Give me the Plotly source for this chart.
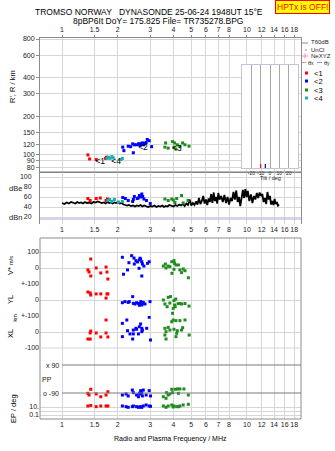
import plotly.graph_objects as go

# ---------------- data ----------------
freq_ticks = [1, 1.5, 2, 3, 4, 5, 6, 7, 8, 10, 12, 14, 16, 18]
freq_tick_labels = ["1", "1.5", "2", "3", "4", "5", "6", "7", "8", "10", "12", "14", "16", "18"]
range_ticks = [80, 90, 100, 120, 150, 200, 300, 400, 600, 800]
db_ticks = [20, 40, 60, 80, 100]

# virtual range R' (km)
red_f_r = [1.38, 1.41, 1.53, 1.72, 1.74]
red_h = [100, 93, 92, 94, 96]
cyan_f_r = [1.75, 1.78, 1.82, 1.86, 1.89, 2.08, 2.12]
cyan_h = [94, 96, 94, 97, 95, 92, 94]
blue_f_r = [2.13, 2.16, 2.28, 2.35, 2.41, 2.43, 2.46, 2.53, 2.59, 2.62, 2.64, 2.66, 2.70,
            2.71, 2.73, 2.75, 2.77, 2.81, 2.85, 2.89, 2.96, 3.05]
blue_h = [115, 108, 117, 116, 122, 104, 120, 120, 122, 120, 122, 119, 123,
          121, 124, 122, 120, 123, 125, 132, 129, 116]
green_f_r = [3.63, 3.60, 3.75, 3.96, 4.06, 4.20, 4.49, 4.86, 4.03, 4.34, 4.13, 4.62]
green_h = [124, 115, 113, 127, 124, 120, 124, 117, 115, 116, 111, 120]

# echo amplitude (dB)
red_f_db = [1.38, 1.42, 1.53, 1.61, 1.73, 1.76]
red_db = [57, 53, 57, 58, 53, 56]
cyan_f_db = [1.77, 1.81, 1.86, 1.92, 2.02, 2.12]
cyan_db = [53, 55, 51, 55, 50, 51]
blue_f_db = [2.13, 2.20, 2.28, 2.41, 2.46, 2.43, 2.55, 2.62, 2.70, 2.73, 2.77, 2.86, 3.00, 2.66, 2.58]
blue_db = [59, 57, 53, 51, 61, 55, 57, 63, 66, 61, 56, 53, 47, 60, 58]
green_f_db = [3.60, 3.75, 3.92, 4.00, 4.17, 4.43, 4.52, 4.80, 4.08]
green_db = [56, 53, 56, 54, 57, 63, 48, 53, 49]

# noise level (dBn)
noise_f = [1.00, 1.03, 1.06, 1.09, 1.12, 1.15, 1.18, 1.21, 1.24, 1.27, 1.30, 1.33, 1.36, 1.40,
           1.44, 1.48, 1.52, 1.56, 1.60, 1.64, 1.68, 1.72, 1.76, 1.80, 1.84, 1.88, 1.92, 1.96,
           2.00, 2.05, 2.10, 2.15, 2.20, 2.25, 2.30, 2.36, 2.42, 2.48, 2.54, 2.60, 2.66, 2.72,
           2.78, 2.85, 2.92, 3.00, 3.08, 3.16, 3.24, 3.32, 3.40, 3.48, 3.56, 3.64, 3.72, 3.80,
           3.90, 4.00, 4.10, 4.20, 4.30, 4.40, 4.50, 4.60, 4.70, 4.80, 4.90, 5.00, 5.10, 5.20,
           5.30, 5.40, 5.50, 5.60, 5.70, 5.80, 5.90, 6.00, 6.10, 6.20, 6.30, 6.40, 6.50, 6.60,
           6.70, 6.80, 6.90, 7.00, 7.10, 7.25, 7.40, 7.55, 7.70, 7.85, 8.00, 8.15, 8.30, 8.45,
           8.60, 8.75, 8.90, 9.05, 9.20, 9.35, 9.50, 9.65, 9.80, 9.95, 10.1, 10.3, 10.5, 10.7,
           10.9, 11.1, 11.3, 11.5, 11.7, 11.9, 12.1, 12.3, 12.5, 12.7, 12.9, 13.1, 13.3, 13.5,
           13.7, 13.9, 14.1, 14.3, 14.5, 14.7, 14.9]
noise_db = [48, 46, 49, 47, 50, 48, 47, 50, 48, 49, 47, 50, 48, 49,
            47, 50, 49, 51, 50, 48, 49, 47, 50, 48, 49, 47, 49, 48,
            50, 47, 48, 45, 44, 43, 44, 42, 43, 41, 43, 42, 44, 41,
            43, 42, 40, 42, 41, 43, 40, 42, 41, 43, 40, 42, 41, 44,
            42, 41, 44, 42, 45, 43, 46, 42, 47, 44, 55, 43, 48, 44,
            51, 45, 58, 46, 52, 62, 47, 55, 44, 57, 50, 66, 48, 69,
            52, 60, 47, 68, 55, 62, 50, 64, 48, 60, 45, 58, 52, 70,
            55, 73, 50, 60, 42, 55, 74, 58, 76, 60, 72, 52, 65, 48,
            62, 55, 68, 58, 69, 62, 66, 50, 58, 46, 70, 55, 62, 45,
            52, 44, 56, 46, 50, 43, 45]

# V* (m/s)
red_f_v = [1.43, 1.38, 1.40, 1.43, 1.53, 1.62, 1.73, 1.75, 1.77]
red_v = [56, -12, -25, -50, 0, -31, 6, -25, -69]
blue_f_v = [2.12, 2.38, 2.30, 2.46, 2.51, 2.62, 2.66, 2.70, 2.72, 2.61, 2.90, 2.96, 2.26,
            2.15, 2.70, 2.64, 2.56, 2.77, 2.45]
blue_v = [67, 77, 33, 25, 46, 50, 56, 39, 25, -2, 29, 39, -12, -39, -50, 61, 38, 12, 62]
green_f_v = [3.53, 3.62, 3.75, 3.92, 4.03, 4.13, 4.26, 3.93, 4.03, 4.34, 4.43, 4.62, 4.82,
             3.65, 3.83, 4.06, 4.52]
green_v = [12, 25, 12, 39, 46, 19, 19, -33, -8, -12, -29, -17, -61, 0, 8, 29, -6]

# YL (km)
red_f_yl = [1.38, 1.42, 1.43, 1.53, 1.62, 1.75, 1.77, 1.73]
red_yl = [50, 44, 31, 38, 38, 38, 38, 12]
blue_f_yl = [2.12, 2.19, 2.28, 2.31, 2.41, 2.43, 2.48, 2.53, 2.59, 2.62, 2.64, 2.70, 2.73,
             2.75, 2.81, 2.99, 2.67]
blue_yl = [-17, -10, -15, -10, 21, -21, -25, -17, -21, -33, -25, -31, -21, -15, -25, -10, -10]
green_f_yl = [3.53, 3.60, 3.75, 3.86, 3.83, 3.70, 4.03, 4.12, 4.06, 3.99, 4.09, 4.34, 4.43,
              4.62, 4.86, 3.96, 4.24]
green_yl = [0, -25, 17, 21, -19, -42, -4, 6, -31, -52, -42, -22, -25, -22, -38, -83, -23]

# XL (km)
red_f_xl = [1.73, 1.43, 1.42, 1.38, 1.42, 1.53, 1.62, 1.73, 1.77]
red_xl = [75, 6, -6, -44, -44, -6, -31, -6, -31]
blue_f_xl = [2.12, 2.24, 2.43, 2.51, 2.62, 2.66, 2.70, 2.72, 2.96, 2.87, 2.26, 2.33, 2.43,
             2.12, 2.59, 2.41, 3.01, 2.70, 2.53]
blue_xl = [54, 75, 12, 23, 33, 50, 23, 12, 92, 23, 8, -12, -12, -29, -12, -44, -50, 2, 17]
green_f_xl = [3.60, 3.75, 3.92, 3.99, 4.13, 4.34, 4.62, 3.65, 3.83, 4.03, 4.20, 4.43, 3.60,
              4.17, 4.87, 3.65, 4.13, 4.49]
green_xl = [23, 29, 64, 75, 71, 71, 75, 2, 12, 17, 8, 12, -19, -8, -19, -44, -29, 27]

# PP (deg)
red_f_pp = [1.43, 1.40, 1.53, 1.62, 1.73, 1.77, 1.38]
red_pp = [-66, -103, -96, -114, -103, -82, -92]
blue_f_pp = [2.12, 2.22, 2.28, 2.40, 2.43, 2.53, 2.62, 2.66, 2.70, 2.72, 2.85, 2.96, 2.75,
             2.59, 3.01, 2.67]
blue_pp = [-103, -96, -109, -71, -88, -103, -92, -75, -88, -109, -103, -75, -71, -114, -109, -96]
green_f_pp = [3.53, 3.67, 3.75, 3.92, 4.09, 4.21, 4.34, 4.56, 3.96, 4.26, 3.65, 4.82, 3.83]
green_pp = [-114, -88, -103, -66, -66, -64, -64, -64, -88, -92, -124, -103, -96]

# EP (deg)
red_f_ep = [1.38, 1.43, 1.53, 1.62, 1.73, 1.77]
red_ep = [18, 25, 12, 18, 18, 18]
blue_f_ep = [2.12, 2.28, 2.43, 2.53, 2.59, 2.64, 2.70, 2.75, 2.85, 2.96, 2.22, 2.40, 2.67, 3.01]
blue_ep = [18, 8.4, 18, 12, 8.4, 12, 8.4, 18, 32, 18, 12, 12, 10, 15]
green_f_ep = [3.53, 3.65, 3.75, 3.92, 4.03, 4.17, 4.34, 4.52, 4.82, 3.99, 4.26]
green_ep = [18, 8.4, 18, 32, 18, 12, 18, 32, 47, 10, 12]

# tilt histogram
tilt_deg = [-10, -5]
tilt_count = [1, 1]
tilt_ticks = [-20, -10, 0, 10, 20]

# labels of the echo groups
group_names = ["<1", "<2", "<3", "<4"]
group_label_f = [1.61, 2.74, 4.18, 1.96]
group_label_h = [88, 113, 111, 88]

RED, BLUE, GREEN, CYAN = "#ff0000", "#0000ff", "#1e8c1e", "#12b0b0"
group_colors = [RED, BLUE, GREEN, CYAN]

# ---------------- geometry helpers (pixel -> paper) ----------------
W, H = 335, 451
L, R, T, B = 40, 34, 38, 32
PW, PH = W - L - R, H - T - B


def px(x):
    return (x - L) / PW


def py(y):
    return (H - B - y) / PH


FONT = "Liberation Sans, Arial, sans-serif"
TXT = "#1a1a1a"
GRID = "#d6d6d6"
AXL = "#8c8c8c"

fig = go.Figure()


def pts(x, y, color, xa, ya):
    fig.add_trace(go.Scatter(x=x, y=y, mode="markers", xaxis=xa, yaxis=ya,
                             marker=dict(symbol="square", size=3, color=color,
                                         line=dict(width=0)),
                             hoverinfo="skip", showlegend=False))


# top panel
pts(red_f_r, red_h, RED, "x", "y")
pts(cyan_f_r, cyan_h, CYAN, "x", "y")
pts(blue_f_r, blue_h, BLUE, "x", "y")
pts(green_f_r, green_h, GREEN, "x", "y")
fig.add_trace(go.Scatter(x=group_label_f, y=group_label_h, mode="text", text=group_names,
                         textfont=dict(family=FONT, size=8.5, color="#000"),
                         xaxis="x", yaxis="y", hoverinfo="skip", showlegend=False))

# dB panel
fig.add_trace(go.Scatter(x=noise_f, y=noise_db, mode="lines", xaxis="x2", yaxis="y2",
                         line=dict(color="#000", width=1.8), hoverinfo="skip",
                         showlegend=False))
pts(red_f_db, red_db, RED, "x2", "y2")
pts(cyan_f_db, cyan_db, CYAN, "x2", "y2")
pts(blue_f_db, blue_db, BLUE, "x2", "y2")
pts(green_f_db, green_db, GREEN, "x2", "y2")

# lower panels
for (rf, rv, bf, bv, gf, gv, ya) in [
    (red_f_v, red_v, blue_f_v, blue_v, green_f_v, green_v, "y3"),
    (red_f_yl, red_yl, blue_f_yl, blue_yl, green_f_yl, green_yl, "y4"),
    (red_f_xl, red_xl, blue_f_xl, blue_xl, green_f_xl, green_xl, "y5"),
    (red_f_pp, red_pp, blue_f_pp, blue_pp, green_f_pp, green_pp, "y6"),
    (red_f_ep, red_ep, blue_f_ep, blue_ep, green_f_ep, green_ep, "y7"),
]:
    pts(rf, rv, RED, "x3", ya)
    pts(bf, bv, BLUE, "x3", ya)
    pts(gf, gv, GREEN, "x3", ya)

# tilt inset
for td, tc, col in zip(tilt_deg, tilt_count, [RED, BLUE]):
    fig.add_trace(go.Scatter(x=[td, td], y=[0, tc], mode="lines", xaxis="x4", yaxis="y8",
                             line=dict(color=col, width=1.2), hoverinfo="skip",
                             showlegend=False))

xr = [-0.119, 1.292]
tickfont = dict(family=FONT, size=7, color=TXT)
xcommon = dict(type="log", range=xr, tickvals=freq_ticks, ticktext=freq_tick_labels,
               showgrid=True, gridcolor=GRID, gridwidth=1, zeroline=False,
               tickfont=tickfont, fixedrange=True, tickangle=0)

fig.update_layout(
    width=W, height=H, margin=dict(l=L, r=R, t=T, b=B, pad=0),
    paper_bgcolor="white", plot_bgcolor="white", showlegend=False,
    xaxis=dict(**xcommon, domain=[0, 1], anchor="y", side="top", ticks="outside",
               ticklen=2, tickcolor=AXL, showline=True, mirror=True, linecolor=AXL),
    yaxis=dict(type="log", domain=[py(172), 1], range=[1.867, 2.911], tickvals=range_ticks,
               ticktext=[str(v) for v in range_ticks], showgrid=True, gridcolor=GRID,
               ticks="outside", ticklen=3, tickcolor=AXL, showline=True, mirror=True,
               linecolor=AXL, tickfont=tickfont, anchor="x", zeroline=False),
    xaxis2=dict(**xcommon, domain=[0, 1], anchor="y2", side="bottom", ticks="",
                showline=False),
    yaxis2=dict(domain=[py(224), py(172)], range=[6, 110], tickvals=db_ticks,
                ticktext=[str(v) for v in db_ticks], showgrid=True, gridcolor=GRID,
                ticks="", showline=True, mirror=True, linecolor=AXL, tickfont=tickfont,
                anchor="x2", zeroline=False, ticklabelstandoff=6),
    xaxis3=dict(**xcommon, domain=[0, 1], anchor="y7", side="bottom", ticks="",
                showline=False),
    yaxis3=dict(domain=[py(284), py(238)], range=[-100, 187.5], tickvals=[100, 0],
                ticktext=["100", "0"], showgrid=True, gridcolor=GRID, ticks="",
                showline=False, tickfont=tickfont, anchor="x3", zeroline=False),
    yaxis4=dict(domain=[py(316), py(284)], range=[-100, 100], tickvals=[100, 0],
                ticktext=["+-100", "0"], showgrid=True, gridcolor=GRID, ticks="",
                showline=False, tickfont=tickfont, anchor="x3", zeroline=False),
    yaxis5=dict(domain=[py(348), py(316)], range=[-100, 100], tickvals=[100, 0, -100],
                ticktext=["+-100", "0", "-100"], showgrid=True, gridcolor=GRID, ticks="",
                showline=False, tickfont=tickfont, anchor="x3", zeroline=False),
    yaxis6=dict(domain=[py(400), py(348)], range=[-135, 199.3], showticklabels=False,
                showgrid=False, ticks="", showline=False, anchor="x3", zeroline=False),
    yaxis7=dict(type="log", domain=[0, py(400)], range=[-2, 2.75], tickvals=[10, 1, 0.1],
                ticktext=["10.", " ", "0.1"], showgrid=True, gridcolor=GRID, ticks="",
                showline=False, tickfont=tickfont, anchor="x3", zeroline=False),
    xaxis4=dict(domain=[px(242), px(298)], range=[-30, 30], anchor="y8", tickvals=tilt_ticks,
                ticktext=[str(v) for v in tilt_ticks], showgrid=True, gridcolor="#a8a8a8",
                showline=True, mirror=True, linecolor="#c4c4d8", ticks="", zeroline=False,
                tickangle=0, tickfont=dict(family=FONT, size=5, color=TXT),
                ticklabelstandoff=0),
    yaxis8=dict(domain=[py(168), py(65)], range=[0, 26], anchor="x4", showticklabels=False,
                showgrid=False, showline=True, mirror=True, linecolor="#c4c4d8", ticks="",
                zeroline=False),
)

shapes = []
# inset white background (covers main grid)
shapes.append(dict(type="rect", xref="x4", yref="y8", x0=-30, x1=30, y0=0, y1=26,
                   fillcolor="white", line=dict(width=0), layer="below"))
# lower section frame
shapes.append(dict(type="rect", xref="paper", yref="paper", x0=0, x1=1, y0=0, y1=py(238),
                   line=dict(color=AXL, width=1), fillcolor="rgba(0,0,0,0)"))
# dBe/top separator
shapes.append(dict(type="line", xref="paper", yref="paper", x0=0, x1=1, y0=py(172),
                   y1=py(172), line=dict(color="#7a7a7a", width=1)))
# noise reference line
shapes.append(dict(type="line", xref="paper", yref="y2", x0=0, x1=1, y0=16, y1=16,
                   line=dict(color="#b0a8e0", width=1)))
# PP lines
for v in [90, -90]:
    shapes.append(dict(type="line", xref="paper", yref="y6", x0=px(62), x1=1, y0=v, y1=v,
                       line=dict(color="#7a7a7a", width=1)))
# XL -100 grid line
shapes.append(dict(type="line", xref="paper", yref="paper", x0=0, x1=1, y0=py(348),
                   y1=py(348), line=dict(color=GRID, width=1)))

# legend marks (right margin)
shapes.append(dict(type="line", xref="paper", yref="paper", x0=px(302), x1=px(308),
                   y0=py(43), y1=py(43), line=dict(color="#b0b0b0", width=1.5)))
shapes.append(dict(type="rect", xref="paper", yref="paper", x0=px(305.5), x1=px(306.5),
                   y0=py(50.5), y1=py(49.5), fillcolor="#333", line=dict(width=0)))
shapes.append(dict(type="line", xref="paper", yref="paper", x0=px(302), x1=px(308),
                   y0=py(56), y1=py(56), line=dict(color="#ff88aa", width=1)))
shapes.append(dict(type="line", xref="paper", yref="paper", x0=px(305), x1=px(305),
                   y0=py(53.5), y1=py(58.5), line=dict(color="#ff88aa", width=1)))
shapes.append(dict(type="line", xref="paper", yref="paper", x0=px(302), x1=px(306),
                   y0=py(62.5), y1=py(62.5), line=dict(color="#ff8888", width=1)))
shapes.append(dict(type="line", xref="paper", yref="paper", x0=px(317), x1=px(322),
                   y0=py(62.5), y1=py(62.5), line=dict(color="#8888ff", width=1)))
for i, (name, col) in enumerate(zip(group_names, group_colors)):
    yc = [73, 81, 90, 98][i]
    shapes.append(dict(type="rect", xref="paper", yref="paper", x0=px(305), x1=px(308),
                       y0=py(yc + 1.5), y1=py(yc - 1.5), fillcolor=col, line=dict(width=0)))
fig.update_layout(shapes=shapes)

anns = []


def ann(text, x, y, size=8, xanchor="center", color=TXT, angle=0, **kw):
    anns.append(dict(text=text, x=px(x), y=py(y), xref="paper", yref="paper",
                     showarrow=False, xanchor=xanchor, yanchor="middle",
                     font=dict(family=FONT, size=size, color=color), textangle=angle, **kw))


NB = "\u00a0"
ann("TROMSO NORWAY" + NB * 3 + "DYNASONDE 25-06-24 1948UT 15°E", 149, 12, size=8.5,
    color="#000")
ann("8pBP6It DoY= 175.825 File= TR735278.BPG", 157.5, 21, size=8.5, color="#000")
ann("HPTx is OFF!", 302.5, 7, size=8.5, color="#ff0000", bgcolor="#ffff00",
    bordercolor="#ff0000", borderwidth=1, borderpad=1)

# legend texts
ann("T60dB", 309, 42.5, size=6, xanchor="left")
ann("UnCl", 309, 49.5, size=6, xanchor="left")
ann("NeXYZ", 309, 55.5, size=6, xanchor="left")
ann("θ<span style='font-size:4.5px'>x</span>", 306, 62.5, size=6, xanchor="left")
ann("θ<span style='font-size:4.5px'>y</span>", 322, 62.5, size=6, xanchor="left")
for name, yc in zip(group_names, [73, 81, 90, 98]):
    ann(name, 312, yc, size=7.5, xanchor="left", color="#000")

# axis titles
ann("R', R / km", 13, 87, size=7.5, angle=-90, color="#000")
ann("dBe", 15, 188, size=7.5)
ann("dBn", 15, 217, size=7.5)
ann("V* <span style='font-size:5.5px'>m/s</span>", 10, 266, size=7.5, angle=-90, color="#000")
ann("YL", 10, 300, size=7.5, angle=-90, color="#000")
ann("km", 14.5, 318, size=5.5, angle=-90, color="#000")
ann("XL", 10, 334, size=7.5, angle=-90, color="#000")
ann("EP / deg", 13, 409, size=7.5, angle=-90, color="#000")
ann("x 90", 61, 365, size=7, xanchor="right")
ann("PP", 47, 379, size=7)
ann("o -90", 61, 393, size=7, xanchor="right")
ann("Tilt / deg", 270, 177.5, size=5.5)
ann("Radio and Plasma Frequency / MHz", 170, 439, size=7, color="#000")
fig.update_layout(annotations=anns)

fig.write_html("out.html")
